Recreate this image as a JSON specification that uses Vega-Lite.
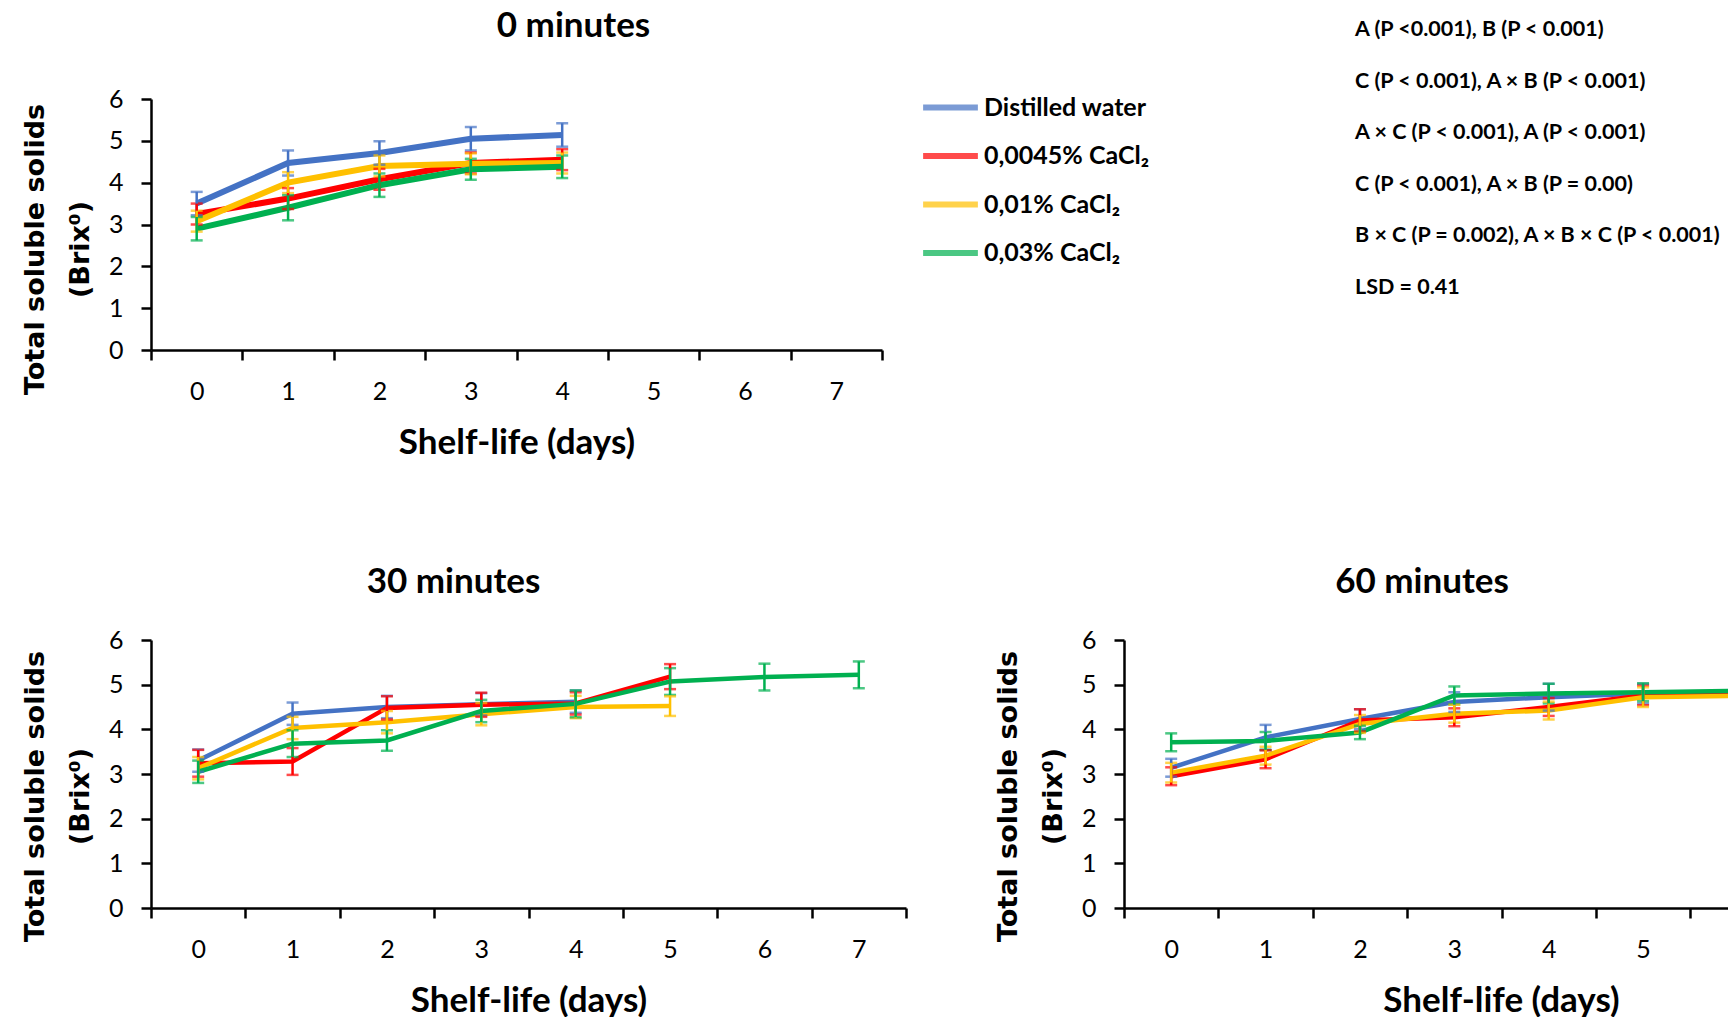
{
  "$schema": "https://vega.github.io/schema/vega-lite/v6.json",
  "autosize": {"type": "none"},
  "padding": {"left": 151, "top": 99, "right": 1577, "bottom": 918},
  "background": "white",
  "bounds": "flush",
  "columns": 2,
  "spacing": {"row": 290, "column": 218},
  "resolve": {
    "scale": {"x": "independent", "y": "independent", "color": "independent"},
    "legend": {"color": "independent"}
  },
  "config": {
    "view": {"stroke": null},
    "axis": {
      "grid": false,
      "tickColor": "black",
      "tickWidth": 2.5,
      "domainColor": "black",
      "domainWidth": 2.5,
      "labelFont": "Lato",
      "labelFontSize": 25,
      "labelColor": "black",
      "titleFont": "Lato",
      "titleFontWeight": "bold",
      "titleFontSize": 35,
      "titleColor": "black"
    },
    "axisY": {
      "titleFont": "DejaVu Sans",
      "titleFontSize": 27,
      "titleLineHeight": 45,
      "titlePadding": 14,
      "labelPadding": 18,
      "tickSize": 10
    },
    "axisX": {
      "tickSize": 10,
      "labelPadding": 19,
      "titlePadding": 21
    },
    "title": {"font": "Lato", "fontSize": 35, "fontWeight": "bold", "color": "black", "anchor": "middle"}
  },
  "datasets": {
    "m0": [
      {"day": 0, "treatment": "Distilled water", "tss": 3.5, "err": 0.28},
      {"day": 1, "treatment": "Distilled water", "tss": 4.47, "err": 0.3},
      {"day": 2, "treatment": "Distilled water", "tss": 4.71, "err": 0.28},
      {"day": 3, "treatment": "Distilled water", "tss": 5.05, "err": 0.28},
      {"day": 4, "treatment": "Distilled water", "tss": 5.14, "err": 0.28},
      {"day": 0, "treatment": "0,0045% CaCl₂", "tss": 3.25, "err": 0.25},
      {"day": 1, "treatment": "0,0045% CaCl₂", "tss": 3.62, "err": 0.25},
      {"day": 2, "treatment": "0,0045% CaCl₂", "tss": 4.08, "err": 0.25},
      {"day": 3, "treatment": "0,0045% CaCl₂", "tss": 4.47, "err": 0.25},
      {"day": 4, "treatment": "0,0045% CaCl₂", "tss": 4.55, "err": 0.25},
      {"day": 0, "treatment": "0,01% CaCl₂", "tss": 3.08, "err": 0.25},
      {"day": 1, "treatment": "0,01% CaCl₂", "tss": 4.0, "err": 0.25},
      {"day": 2, "treatment": "0,01% CaCl₂", "tss": 4.4, "err": 0.25},
      {"day": 3, "treatment": "0,01% CaCl₂", "tss": 4.45, "err": 0.25},
      {"day": 4, "treatment": "0,01% CaCl₂", "tss": 4.47, "err": 0.25},
      {"day": 0, "treatment": "0,03% CaCl₂", "tss": 2.9, "err": 0.28},
      {"day": 1, "treatment": "0,03% CaCl₂", "tss": 3.4, "err": 0.3},
      {"day": 2, "treatment": "0,03% CaCl₂", "tss": 3.94, "err": 0.28},
      {"day": 3, "treatment": "0,03% CaCl₂", "tss": 4.32, "err": 0.25},
      {"day": 4, "treatment": "0,03% CaCl₂", "tss": 4.38, "err": 0.27}
    ],
    "m30": [
      {"day": 0, "treatment": "Distilled water", "tss": 3.3, "err": 0.25},
      {"day": 1, "treatment": "Distilled water", "tss": 4.35, "err": 0.25},
      {"day": 2, "treatment": "Distilled water", "tss": 4.5, "err": 0.25},
      {"day": 3, "treatment": "Distilled water", "tss": 4.56, "err": 0.25},
      {"day": 4, "treatment": "Distilled water", "tss": 4.62, "err": 0.25},
      {"day": 0, "treatment": "0,0045% CaCl₂", "tss": 3.24, "err": 0.3},
      {"day": 1, "treatment": "0,0045% CaCl₂", "tss": 3.28, "err": 0.3},
      {"day": 2, "treatment": "0,0045% CaCl₂", "tss": 4.48, "err": 0.26},
      {"day": 3, "treatment": "0,0045% CaCl₂", "tss": 4.55, "err": 0.27},
      {"day": 4, "treatment": "0,0045% CaCl₂", "tss": 4.58, "err": 0.25},
      {"day": 5, "treatment": "0,0045% CaCl₂", "tss": 5.18, "err": 0.28},
      {"day": 0, "treatment": "0,01% CaCl₂", "tss": 3.13, "err": 0.25},
      {"day": 1, "treatment": "0,01% CaCl₂", "tss": 4.03, "err": 0.25},
      {"day": 2, "treatment": "0,01% CaCl₂", "tss": 4.16, "err": 0.25},
      {"day": 3, "treatment": "0,01% CaCl₂", "tss": 4.34, "err": 0.25},
      {"day": 4, "treatment": "0,01% CaCl₂", "tss": 4.5, "err": 0.25},
      {"day": 5, "treatment": "0,01% CaCl₂", "tss": 4.52, "err": 0.22},
      {"day": 0, "treatment": "0,03% CaCl₂", "tss": 3.05, "err": 0.25},
      {"day": 1, "treatment": "0,03% CaCl₂", "tss": 3.68, "err": 0.3},
      {"day": 2, "treatment": "0,03% CaCl₂", "tss": 3.75, "err": 0.23},
      {"day": 3, "treatment": "0,03% CaCl₂", "tss": 4.41, "err": 0.25},
      {"day": 4, "treatment": "0,03% CaCl₂", "tss": 4.57, "err": 0.3},
      {"day": 5, "treatment": "0,03% CaCl₂", "tss": 5.07, "err": 0.3},
      {"day": 6, "treatment": "0,03% CaCl₂", "tss": 5.17, "err": 0.3},
      {"day": 7, "treatment": "0,03% CaCl₂", "tss": 5.22, "err": 0.3}
    ],
    "m60": [
      {"day": 0, "treatment": "Distilled water", "tss": 3.14, "err": 0.2},
      {"day": 1, "treatment": "Distilled water", "tss": 3.82, "err": 0.28},
      {"day": 2, "treatment": "Distilled water", "tss": 4.23, "err": 0.22},
      {"day": 3, "treatment": "Distilled water", "tss": 4.61, "err": 0.22},
      {"day": 4, "treatment": "Distilled water", "tss": 4.72, "err": 0.3},
      {"day": 5, "treatment": "Distilled water", "tss": 4.8, "err": 0.22},
      {"day": 6, "treatment": "Distilled water", "tss": 4.8, "err": 0.22},
      {"day": 0, "treatment": "0,0045% CaCl₂", "tss": 2.95, "err": 0.2},
      {"day": 1, "treatment": "0,0045% CaCl₂", "tss": 3.33, "err": 0.2},
      {"day": 2, "treatment": "0,0045% CaCl₂", "tss": 4.2, "err": 0.25},
      {"day": 3, "treatment": "0,0045% CaCl₂", "tss": 4.27, "err": 0.2},
      {"day": 4, "treatment": "0,0045% CaCl₂", "tss": 4.5, "err": 0.2},
      {"day": 5, "treatment": "0,0045% CaCl₂", "tss": 4.76, "err": 0.22},
      {"day": 6, "treatment": "0,0045% CaCl₂", "tss": 4.78, "err": 0.22},
      {"day": 0, "treatment": "0,01% CaCl₂", "tss": 3.03, "err": 0.22},
      {"day": 1, "treatment": "0,01% CaCl₂", "tss": 3.41, "err": 0.2},
      {"day": 2, "treatment": "0,01% CaCl₂", "tss": 4.12, "err": 0.2},
      {"day": 3, "treatment": "0,01% CaCl₂", "tss": 4.35, "err": 0.2},
      {"day": 4, "treatment": "0,01% CaCl₂", "tss": 4.42, "err": 0.2},
      {"day": 5, "treatment": "0,01% CaCl₂", "tss": 4.72, "err": 0.22},
      {"day": 6, "treatment": "0,01% CaCl₂", "tss": 4.75, "err": 0.22},
      {"day": 0, "treatment": "0,03% CaCl₂", "tss": 3.71, "err": 0.2},
      {"day": 1, "treatment": "0,03% CaCl₂", "tss": 3.74, "err": 0.2},
      {"day": 2, "treatment": "0,03% CaCl₂", "tss": 3.93, "err": 0.15},
      {"day": 3, "treatment": "0,03% CaCl₂", "tss": 4.76, "err": 0.2},
      {"day": 4, "treatment": "0,03% CaCl₂", "tss": 4.8, "err": 0.22},
      {"day": 5, "treatment": "0,03% CaCl₂", "tss": 4.83, "err": 0.2},
      {"day": 6, "treatment": "0,03% CaCl₂", "tss": 4.86, "err": 0.2}
    ],
    "stats": [
      {"line": 1, "text": "A (P <0.001), B (P < 0.001)"},
      {"line": 2, "text": "C (P < 0.001), A × B (P < 0.001)"},
      {"line": 3, "text": "A × C (P < 0.001), A (P < 0.001)"},
      {"line": 4, "text": "C (P < 0.001), A × B (P = 0.00)"},
      {"line": 5, "text": "B × C (P = 0.002), A × B × C (P < 0.001)"},
      {"line": 6, "text": "LSD = 0.41"}
    ]
  },
  "concat": [
    {
      "width": 731,
      "height": 251,
      "data": {"name": "m0"},
      "title": {"text": "0 minutes", "dx": 57, "offset": 33},
      "encoding": {
        "x": {
          "field": "day", "type": "quantitative",
          "scale": {"domain": [-0.5, 7.5], "nice": false, "zero": false},
          "axis": {
            "values": [-0.5, 0.5, 1.5, 2.5, 3.5, 4.5, 5.5, 6.5, 7.5],
            "labelOffset": 45.7,
            "labelExpr": "datum.value > 7 ? '' : format(datum.value + 0.5, 'd')",
            "labelFlush": false, "labelOverlap": false, "labelBound": false,
            "title": "Shelf-life (days)"
          }
        },
        "y": {
          "field": "tss", "type": "quantitative",
          "scale": {"domain": [0, 6], "nice": false},
          "axis": {"values": [0, 1, 2, 3, 4, 5, 6], "title": ["Total soluble solids", "(Brix⁰)"], "titleY": 150}
        },
        "color": {
          "field": "treatment", "type": "nominal",
          "scale": {
            "domain": ["Distilled water", "0,0045% CaCl₂", "0,01% CaCl₂", "0,03% CaCl₂"],
            "range": ["#4472C4", "#FF0000", "#FFC000", "#00B050"]
          },
          "legend": {
            "orient": "none", "legendX": 769, "legendY": -22, "title": null,
            "symbolType": "stroke", "symbolSize": 3000, "symbolStrokeWidth": 6,
            "labelFont": "Lato", "labelFontWeight": "bold", "labelFontSize": 25,
            "labelColor": "black", "labelOffset": 3, "rowPadding": 4.5, "labelLimit": 400
          }
        }
      },
      "layer": [
        {"mark": {"type": "line", "strokeWidth": 6}},
        {
          "mark": {"type": "errorbar", "ticks": {"size": 12, "thickness": 2.5}, "thickness": 2.5},
          "encoding": {"yError": {"field": "err"}}
        }
      ]
    },
    {
      "width": 400,
      "height": 251,
      "data": {"name": "stats"},
      "mark": {"type": "text", "align": "left", "baseline": "middle", "font": "Lato", "fontWeight": "bold", "fontSize": 21.5, "color": "black"},
      "encoding": {
        "y": {"field": "line", "type": "quantitative", "scale": {"domain": [2.337, 7.201], "reverse": true, "nice": false, "zero": false}, "axis": null},
        "x": {"value": 231},
        "text": {"field": "text"}
      }
    },
    {
      "width": 755,
      "height": 268,
      "data": {"name": "m30"},
      "title": {"text": "30 minutes", "dx": -75, "offset": 28},
      "encoding": {
        "x": {
          "field": "day", "type": "quantitative",
          "scale": {"domain": [-0.5, 7.5], "nice": false, "zero": false},
          "axis": {
            "values": [-0.5, 0.5, 1.5, 2.5, 3.5, 4.5, 5.5, 6.5, 7.5],
            "labelOffset": 47.2,
            "labelExpr": "datum.value > 7 ? '' : format(datum.value + 0.5, 'd')",
            "labelFlush": false, "labelOverlap": false, "labelBound": false,
            "title": "Shelf-life (days)"
          }
        },
        "y": {
          "field": "tss", "type": "quantitative",
          "scale": {"domain": [0, 6], "nice": false},
          "axis": {"values": [0, 1, 2, 3, 4, 5, 6], "title": ["Total soluble solids", "(Brix⁰)"], "titleY": 156}
        },
        "color": {
          "field": "treatment", "type": "nominal",
          "scale": {
            "domain": ["Distilled water", "0,0045% CaCl₂", "0,01% CaCl₂", "0,03% CaCl₂"],
            "range": ["#4472C4", "#FF0000", "#FFC000", "#00B050"]
          },
          "legend": null
        }
      },
      "layer": [
        {"mark": {"type": "line", "strokeWidth": 4.5}},
        {
          "mark": {"type": "errorbar", "ticks": {"size": 12, "thickness": 2.5}, "thickness": 2.5},
          "encoding": {"yError": {"field": "err"}}
        }
      ]
    },
    {
      "width": 604,
      "height": 268,
      "data": {"name": "m60"},
      "title": {"text": "60 minutes", "dx": -4, "offset": 28},
      "encoding": {
        "x": {
          "field": "day", "type": "quantitative",
          "scale": {"domain": [-0.5, 5.9], "nice": false, "zero": false},
          "axis": {
            "values": [-0.5, 0.5, 1.5, 2.5, 3.5, 4.5, 5.5],
            "labelOffset": 47.2,
            "labelExpr": "datum.value > 5 ? '' : format(datum.value + 0.5, 'd')",
            "labelFlush": false, "labelOverlap": false, "labelBound": false,
            "title": "Shelf-life (days)",
            "titleX": 377
          }
        },
        "y": {
          "field": "tss", "type": "quantitative",
          "scale": {"domain": [0, 6], "nice": false},
          "axis": {"values": [0, 1, 2, 3, 4, 5, 6], "title": ["Total soluble solids", "(Brix⁰)"], "titleY": 156}
        },
        "color": {
          "field": "treatment", "type": "nominal",
          "scale": {
            "domain": ["Distilled water", "0,0045% CaCl₂", "0,01% CaCl₂", "0,03% CaCl₂"],
            "range": ["#4472C4", "#FF0000", "#FFC000", "#00B050"]
          },
          "legend": null
        }
      },
      "layer": [
        {"mark": {"type": "line", "strokeWidth": 4.5, "clip": true}},
        {
          "transform": [{"filter": "datum.day <= 5"}],
          "mark": {"type": "errorbar", "ticks": {"size": 12, "thickness": 2.5}, "thickness": 2.5},
          "encoding": {"yError": {"field": "err"}}
        }
      ]
    }
  ]
}
